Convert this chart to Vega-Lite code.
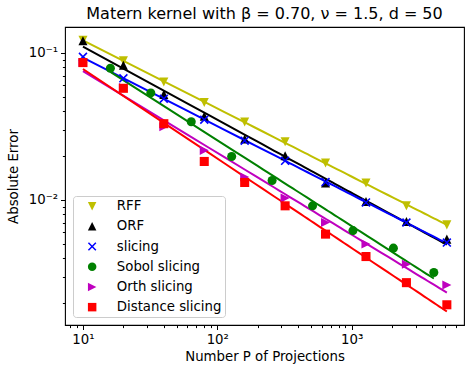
{
  "$schema": "https://vega.github.io/schema/vega-lite/v6.json",
  "width": 399,
  "height": 298,
  "autosize": {"type": "none"},
  "padding": {"left": 65, "top": 27, "right": 8, "bottom": 47},
  "background": "white",
  "config": {
    "font": "DejaVu Sans",
    "view": {"stroke": "black", "strokeWidth": 1.1},
    "axis": {"domain": false, "grid": false, "tickColor": "black", "labelColor": "black", "titleColor": "black", "labelFont": "DejaVu Sans", "titleFont": "DejaVu Sans", "labelFontSize": 13.3, "titleFontSize": 13.3, "titleFontWeight": "normal", "tickWidth": 1},
    "legend": {"labelFont": "DejaVu Sans", "labelFontSize": 13.3, "labelColor": "black"}
  },
  "title": {"text": "Matern kernel with β = 0.70, ν = 1.5, d = 50", "fontSize": 16, "fontWeight": "normal", "font": "DejaVu Sans", "color": "black", "offset": 5, "anchor": "middle"},
  "data": {"values": [
    {"series": "RFF", "P": 10, "error": 0.1219},
    {"series": "RFF", "P": 20, "error": 0.0882},
    {"series": "RFF", "P": 40, "error": 0.0634},
    {"series": "RFF", "P": 80, "error": 0.0460},
    {"series": "RFF", "P": 160, "error": 0.0339},
    {"series": "RFF", "P": 320, "error": 0.02486},
    {"series": "RFF", "P": 640, "error": 0.01779},
    {"series": "RFF", "P": 1280, "error": 0.0130},
    {"series": "RFF", "P": 2560, "error": 0.0091},
    {"series": "RFF", "P": 5120, "error": 0.00675},
    {"series": "ORF", "P": 10, "error": 0.1208},
    {"series": "ORF", "P": 20, "error": 0.0823},
    {"series": "ORF", "P": 40, "error": 0.0522},
    {"series": "ORF", "P": 80, "error": 0.0370},
    {"series": "ORF", "P": 160, "error": 0.02594},
    {"series": "ORF", "P": 320, "error": 0.01995},
    {"series": "ORF", "P": 640, "error": 0.0130},
    {"series": "ORF", "P": 1280, "error": 0.00974},
    {"series": "ORF", "P": 2560, "error": 0.00711},
    {"series": "ORF", "P": 5120, "error": 0.0054},
    {"series": "slicing", "P": 10, "error": 0.0939},
    {"series": "slicing", "P": 20, "error": 0.0671},
    {"series": "slicing", "P": 40, "error": 0.0488},
    {"series": "slicing", "P": 80, "error": 0.0351},
    {"series": "slicing", "P": 160, "error": 0.02525},
    {"series": "slicing", "P": 320, "error": 0.01844},
    {"series": "slicing", "P": 640, "error": 0.0132},
    {"series": "slicing", "P": 1280, "error": 0.00959},
    {"series": "slicing", "P": 2560, "error": 0.0070},
    {"series": "slicing", "P": 5120, "error": 0.00512},
    {"series": "Sobol slicing", "P": 16, "error": 0.0785},
    {"series": "Sobol slicing", "P": 32, "error": 0.0534},
    {"series": "Sobol slicing", "P": 64, "error": 0.0340},
    {"series": "Sobol slicing", "P": 128, "error": 0.01973},
    {"series": "Sobol slicing", "P": 256, "error": 0.01354},
    {"series": "Sobol slicing", "P": 512, "error": 0.0091},
    {"series": "Sobol slicing", "P": 1024, "error": 0.00617},
    {"series": "Sobol slicing", "P": 2048, "error": 0.00469},
    {"series": "Sobol slicing", "P": 4096, "error": 0.0032},
    {"series": "Orth slicing", "P": 10, "error": 0.0859},
    {"series": "Orth slicing", "P": 20, "error": 0.0580},
    {"series": "Orth slicing", "P": 40, "error": 0.0314},
    {"series": "Orth slicing", "P": 80, "error": 0.0217},
    {"series": "Orth slicing", "P": 160, "error": 0.01428},
    {"series": "Orth slicing", "P": 320, "error": 0.01027},
    {"series": "Orth slicing", "P": 640, "error": 0.0070},
    {"series": "Orth slicing", "P": 1280, "error": 0.00501},
    {"series": "Orth slicing", "P": 2560, "error": 0.00364},
    {"series": "Orth slicing", "P": 5120, "error": 0.00263},
    {"series": "Distance slicing", "P": 10, "error": 0.0859},
    {"series": "Distance slicing", "P": 20, "error": 0.0574},
    {"series": "Distance slicing", "P": 40, "error": 0.03296},
    {"series": "Distance slicing", "P": 80, "error": 0.01824},
    {"series": "Distance slicing", "P": 160, "error": 0.01312},
    {"series": "Distance slicing", "P": 320, "error": 0.0091},
    {"series": "Distance slicing", "P": 640, "error": 0.00584},
    {"series": "Distance slicing", "P": 1280, "error": 0.00411},
    {"series": "Distance slicing", "P": 2560, "error": 0.00273},
    {"series": "Distance slicing", "P": 5120, "error": 0.00193}
  ]},
  "encoding": {
    "x": {
      "field": "P", "type": "quantitative",
      "scale": {"type": "log", "domain": [7.35, 6870], "nice": false},
      "axis": {
        "title": "Number P of Projections",
        "values": [8, 9, 10, 20, 30, 40, 50, 60, 70, 80, 90, 100, 200, 300, 400, 500, 600, 700, 800, 900, 1000, 2000, 3000, 4000, 5000, 6000],
        "labelExpr": "datum.value == 10 ? '10¹' : datum.value == 100 ? '10²' : datum.value == 1000 ? '10³' : ''",
        "labelOverlap": false,
        "labelBound": false,
        "labelPadding": 3,
        "tickSize": {"condition": {"test": "datum.value == 10 || datum.value == 100 || datum.value == 1000", "value": 4.5}, "value": 2.6},
        "titlePadding": 4
      }
    },
    "y": {
      "field": "error", "type": "quantitative",
      "scale": {"type": "log", "domain": [0.001406, 0.150], "nice": false},
      "axis": {
        "title": "Absolute Error",
        "values": [0.002, 0.003, 0.004, 0.005, 0.006, 0.007, 0.008, 0.009, 0.01, 0.02, 0.03, 0.04, 0.05, 0.06, 0.07, 0.08, 0.09, 0.1],
        "labelExpr": "datum.value == 0.1 ? '10⁻¹' : datum.value == 0.01 ? '10⁻²' : ''",
        "labelOverlap": false,
        "labelBound": false,
        "labelPadding": 3,
        "tickSize": {"condition": {"test": "datum.value == 0.1 || datum.value == 0.01", "value": 4.5}, "value": 2.6},
        "titlePadding": 8
      }
    }
  },
  "layer": [
    {
      "transform": [{"regression": "error", "on": "P", "groupby": ["series"], "method": "pow"}],
      "mark": {"type": "line", "strokeWidth": 2},
      "encoding": {
        "stroke": {"field": "series", "type": "nominal", "legend": null,
          "scale": {"domain": ["Distance slicing", "Orth slicing", "Sobol slicing", "slicing", "ORF", "RFF"], "range": ["#ff0000", "#bf00bf", "#008000", "#0000ff", "#000000", "#bfbf00"]}}
      }
    },
    {
      "mark": {"type": "point", "filled": true, "opacity": 1, "size": 82},
      "encoding": {
        "color": {"field": "series", "type": "nominal",
          "scale": {"domain": ["RFF", "ORF", "slicing", "Sobol slicing", "Orth slicing", "Distance slicing"], "range": ["#bfbf00", "#000000", "#0000ff", "#008000", "#bf00bf", "#ff0000"]},
          "legend": {"title": null, "orient": "bottom-left", "offset": 8, "padding": 3.5, "rowPadding": 6.2, "symbolOffset": 9, "labelOffset": 18, "symbolSize": 72, "fillColor": "white", "strokeColor": "#cccccc", "cornerRadius": 3, "symbolStrokeWidth": 0}},
        "shape": {"field": "series", "type": "nominal",
          "scale": {"domain": ["RFF", "ORF", "slicing", "Sobol slicing", "Orth slicing", "Distance slicing"], "range": ["M-1,-1L1,-1L0,1Z", "M0,-1L1,1L-1,1Z", "M-1,-0.75L-0.75,-1L1,0.75L0.75,1Z M1,-0.75L-0.75,1L-1,0.75L0.75,-1Z", "circle", "M-1,-1L1,0L-1,1Z", "square"]}}
      }
    }
  ]
}
